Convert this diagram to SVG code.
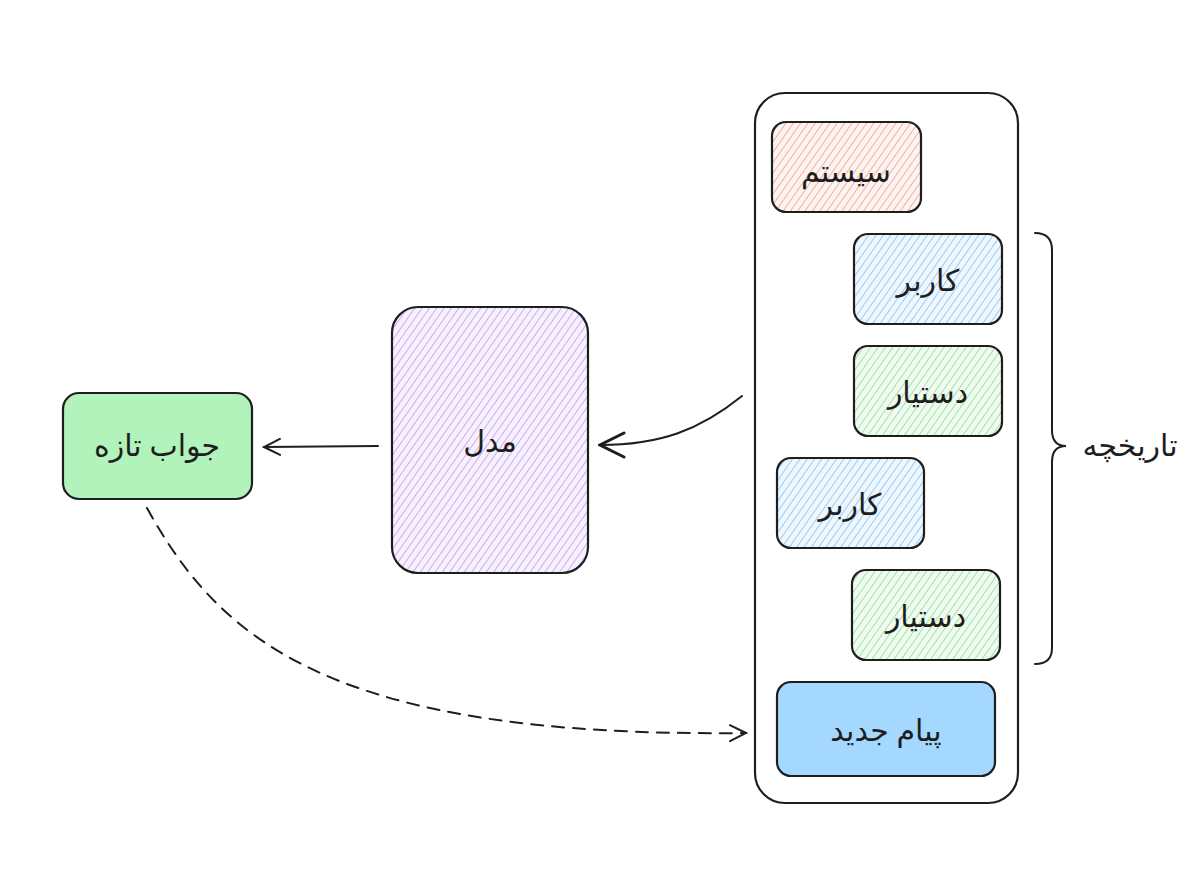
<svg xmlns="http://www.w3.org/2000/svg" width="1200" height="896" viewBox="0 0 1200 896">
<defs>
<pattern id="hr" width="6" height="6" patternUnits="userSpaceOnUse" patternTransform="rotate(35)"><rect width="6" height="6" fill="#fdf3f0"/><line x1="0" y1="0" x2="0" y2="6" stroke="#f0a08e" stroke-width="1.6"/></pattern>
<pattern id="hb" width="6" height="6" patternUnits="userSpaceOnUse" patternTransform="rotate(35)"><rect width="6" height="6" fill="#eef7fe"/><line x1="0" y1="0" x2="0" y2="6" stroke="#86c1ee" stroke-width="1.6"/></pattern>
<pattern id="hg" width="6" height="6" patternUnits="userSpaceOnUse" patternTransform="rotate(35)"><rect width="6" height="6" fill="#f0fbf0"/><line x1="0" y1="0" x2="0" y2="6" stroke="#92da99" stroke-width="1.6"/></pattern>
<pattern id="hp" width="6" height="6" patternUnits="userSpaceOnUse" patternTransform="rotate(35)"><rect width="6" height="6" fill="#f7f1fd"/><line x1="0" y1="0" x2="0" y2="6" stroke="#c19ced" stroke-width="1.6"/></pattern>
<marker id="ar" markerWidth="20" markerHeight="20" refX="18" refY="10" orient="auto" markerUnits="userSpaceOnUse"><path d="M2,2 L18,10 L2,18" fill="none" stroke="#1e1e1e" stroke-width="2" stroke-linecap="round"/></marker>
<marker id="arT" markerWidth="28" markerHeight="28" refX="26" refY="14" orient="auto" markerUnits="userSpaceOnUse"><path d="M2,2 L26,14 L2,26" fill="none" stroke="#1e1e1e" stroke-width="3" stroke-linecap="round"/></marker>
</defs>
<style>
.b{stroke:#1e1e1e;stroke-width:2.2}
.t{font-family:"Noto Sans","DejaVu Sans",sans-serif;font-size:30px;fill:#1e1e1e;text-anchor:middle;dominant-baseline:central}
.c{fill:none;stroke:#1e1e1e;stroke-width:2;stroke-linecap:round}
</style>
<rect width="1200" height="896" fill="#fff"/>
<g id="container"><rect x="755" y="93" width="263" height="710" rx="30" fill="none" class="b"/></g>
<g id="system"><rect x="772" y="122" width="149" height="90" rx="14" fill="url(#hr)" class="b"/><text class="t" x="846" y="170">سیستم</text></g>
<g id="user1"><rect x="854" y="234" width="148" height="90" rx="14" fill="url(#hb)" class="b"/><text class="t" x="928" y="279">کاربر</text></g>
<g id="assistant1"><rect x="854" y="346" width="148" height="90" rx="14" fill="url(#hg)" class="b"/><text class="t" x="928" y="391">دستیار</text></g>
<g id="user2"><rect x="777" y="458" width="147" height="90" rx="14" fill="url(#hb)" class="b"/><text class="t" x="850" y="503">کاربر</text></g>
<g id="assistant2"><rect x="852" y="570" width="148" height="90" rx="14" fill="url(#hg)" class="b"/><text class="t" x="926" y="615">دستیار</text></g>
<g id="newmsg"><rect x="777" y="682" width="218" height="94" rx="14" fill="#a5d8ff" class="b"/><text class="t" x="886" y="729">پیام جدید</text></g>
<g id="history"><path class="c" d="M1035,233 Q1052,233 1052,250 L1052,430 Q1052,446 1066,446 Q1052,446 1052,462 L1052,648 Q1052,664 1035,664"/><text class="t" x="1130" y="444">تاریخچه</text></g>
<g id="model"><rect x="392" y="307" width="196" height="266" rx="26" fill="url(#hp)" class="b"/><text class="t" x="490" y="440">مدل</text></g>
<g id="answer"><rect x="63" y="393" width="189" height="106" rx="16" fill="#b2f2bb" class="b"/><text class="t" x="157" y="444">جواب تازه</text></g>
<g id="connectors">
<path class="c" stroke-width="3" d="M742,396 C700,430 660,445 600,445" marker-end="url(#arT)"/>
<path class="c" d="M378,446 L264,447" marker-end="url(#ar)"/>
<path class="c" stroke-dasharray="12,9" d="M147,508 C220,640 330,738 746,733" marker-end="url(#ar)"/>
</g>
</svg>
